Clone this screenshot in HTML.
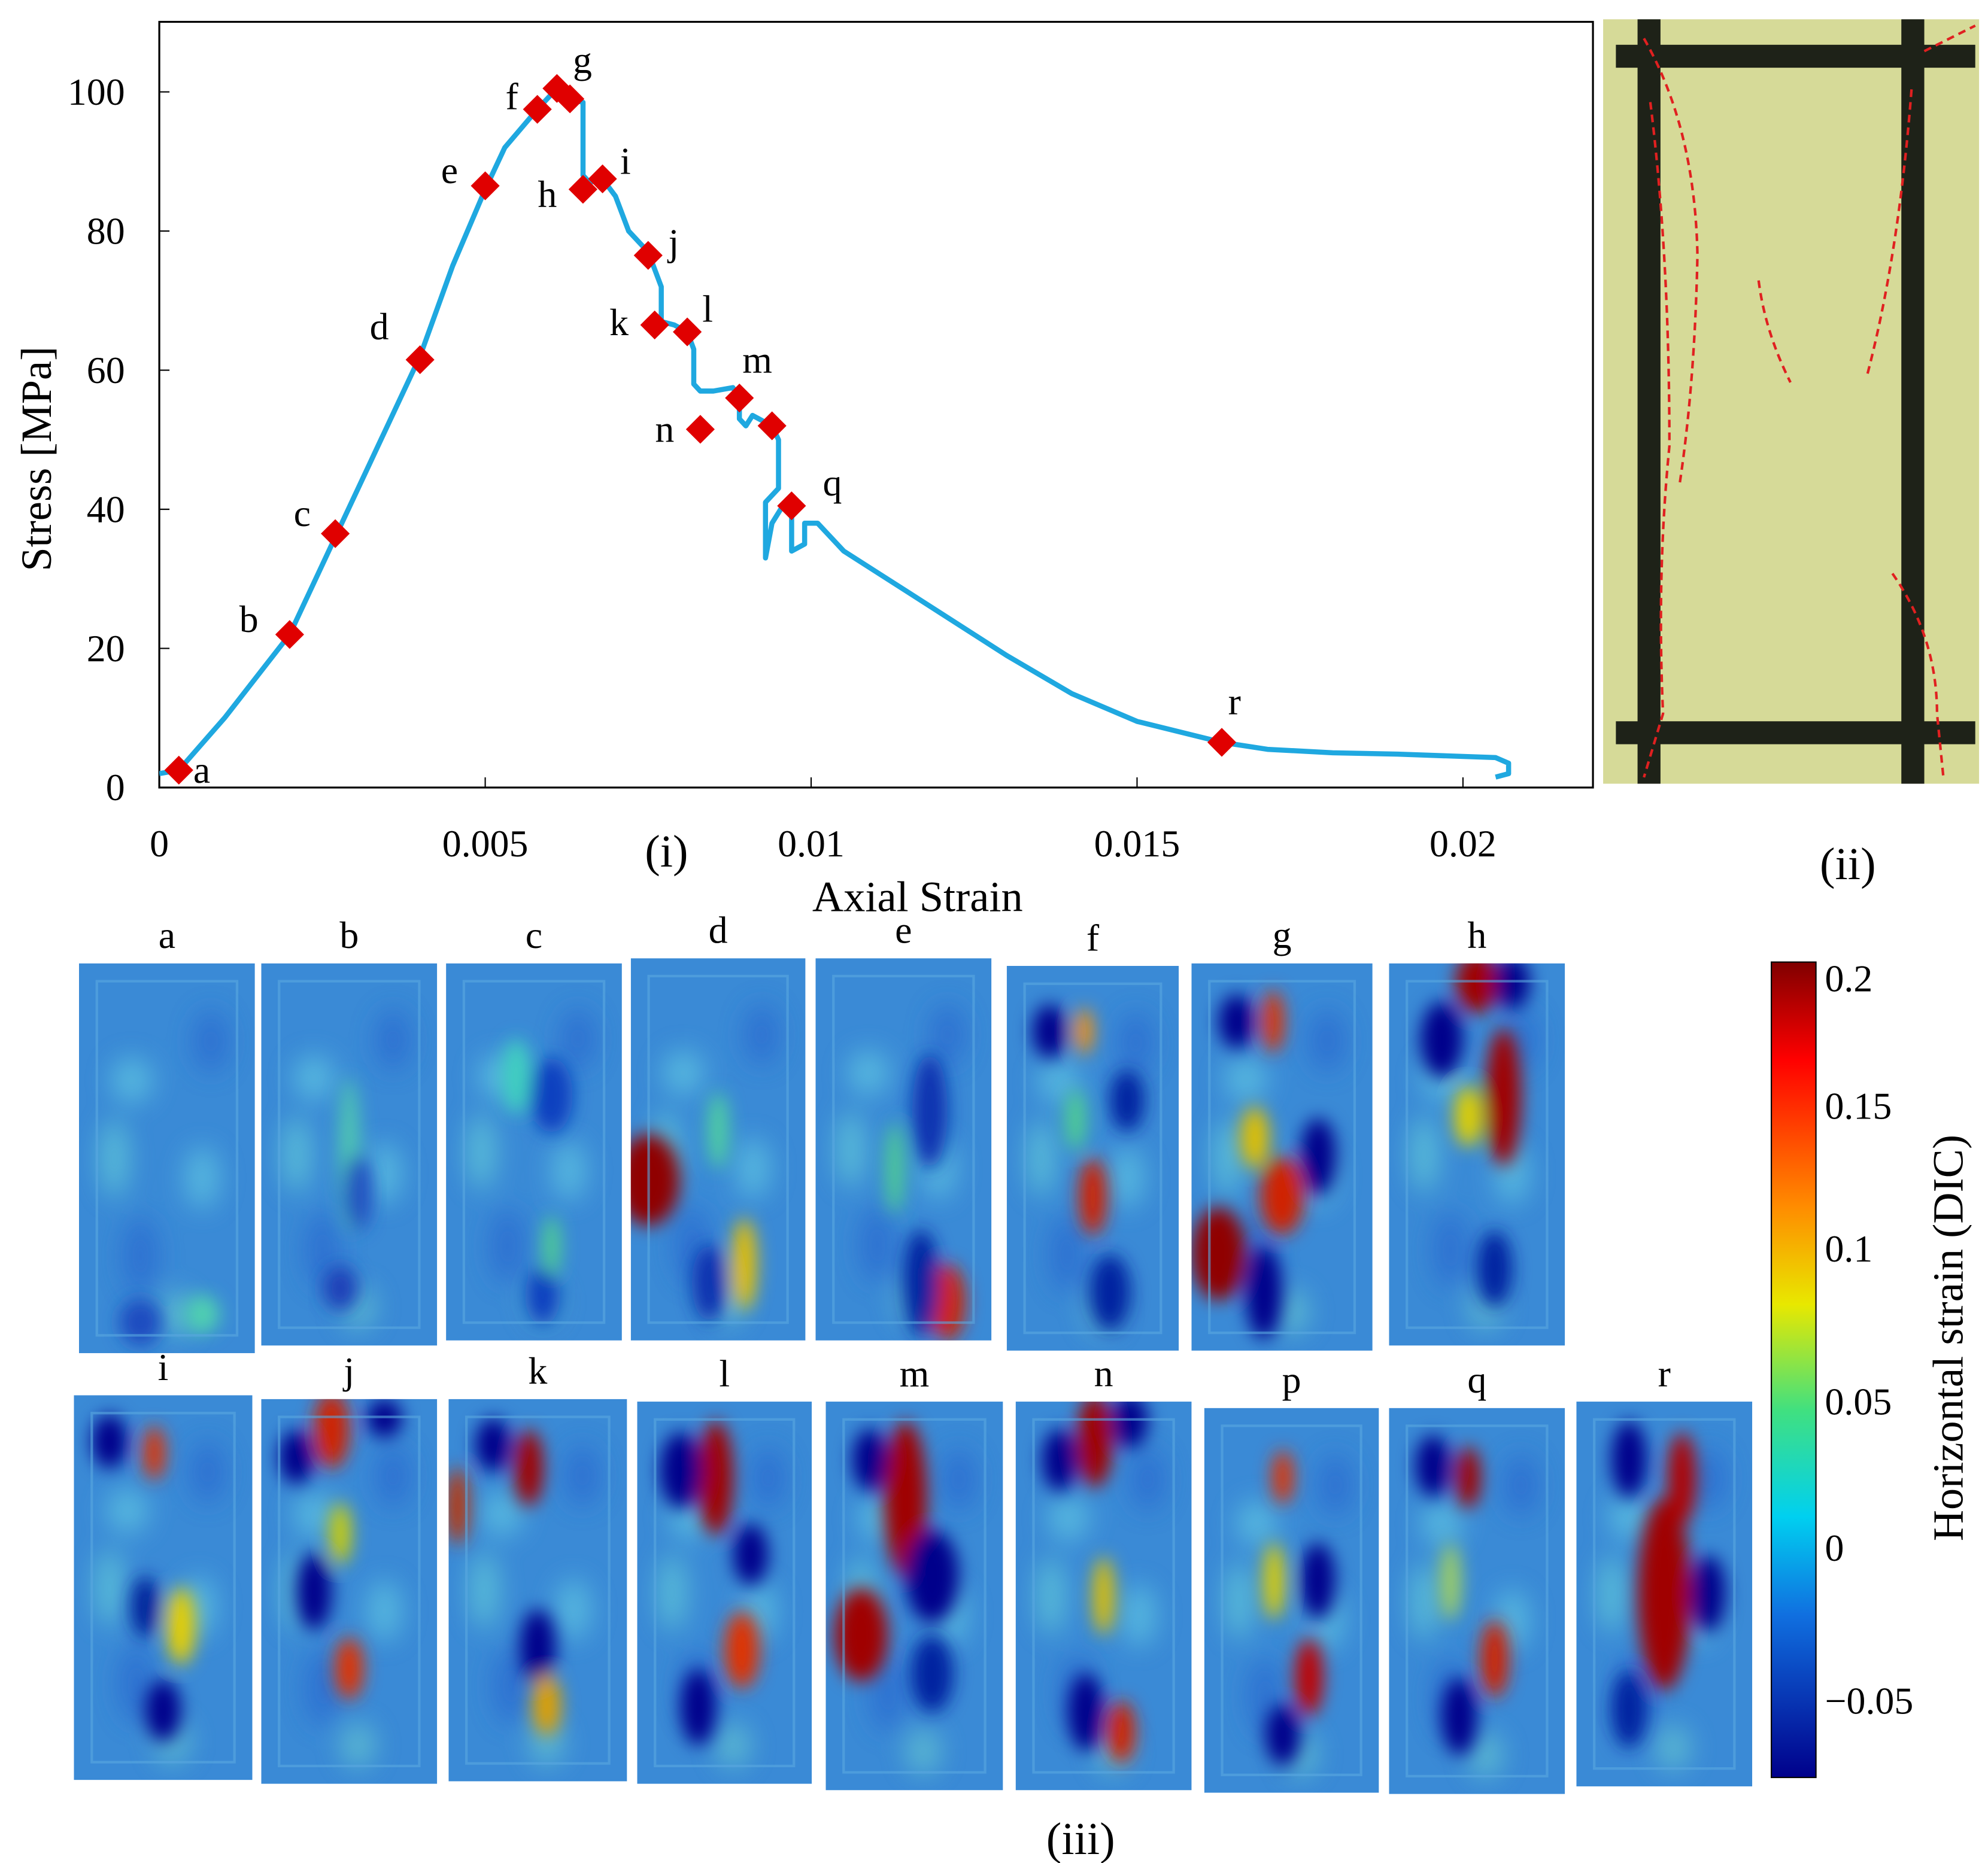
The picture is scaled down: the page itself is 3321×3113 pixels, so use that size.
<!DOCTYPE html>
<html><head><meta charset="utf-8">
<style>
html,body{margin:0;padding:0;background:#fff;}
svg{display:block;font-family:"Liberation Serif",serif;}
</style></head>
<body>
<svg id="fig" width="3321" height="3113" viewBox="0 0 1560 1462" xmlns="http://www.w3.org/2000/svg">
<defs>
<filter id="blur" x="-30%" y="-30%" width="160%" height="160%"><feGaussianBlur stdDeviation="7"/></filter>
<filter id="blur2" x="-30%" y="-30%" width="160%" height="160%"><feGaussianBlur stdDeviation="10"/></filter>
<linearGradient id="jet" x1="0" y1="0" x2="0" y2="1">
<stop offset="0" stop-color="#800000"/><stop offset="0.12" stop-color="#ff0000"/>
<stop offset="0.3" stop-color="#ff8c00"/><stop offset="0.42" stop-color="#e8e800"/>
<stop offset="0.55" stop-color="#40e080"/><stop offset="0.68" stop-color="#00d0f0"/>
<stop offset="0.8" stop-color="#1070e0"/><stop offset="1" stop-color="#00008b"/>
</linearGradient>
<clipPath id="plotclip"><rect x="125" y="17" width="1125" height="601"/></clipPath>
</defs>
<rect width="1560" height="1462" fill="#fff"/>
<rect x="125" y="17" width="1125" height="601" fill="#fff" stroke="#000" stroke-width="1.5"/>
<g id="axes"></g>
<g id="series" clip-path="url(#plotclip)"></g>
<g id="marks"></g>
<text transform="translate(40,360) rotate(-90)" text-anchor="middle" font-size="34">Stress [MPa]</text>
<text x="720" y="715" text-anchor="middle" font-size="34">Axial Strain</text>
<text x="523" y="680" text-anchor="middle" font-size="36">(i)</text>
<text x="1450" y="690" text-anchor="middle" font-size="36">(ii)</text>
<text x="848" y="1455" text-anchor="middle" font-size="36">(iii)</text>
<g>
<rect x="1258" y="15" width="295" height="600" fill="#d6da98"/>
<rect x="1268" y="35" width="282" height="18" fill="#1e2218"/>
<rect x="1268" y="566" width="282" height="18" fill="#1e2218"/>
<rect x="1285" y="15" width="18" height="600" fill="#1e2218"/>
<rect x="1492" y="15" width="18" height="600" fill="#1e2218"/>
<g fill="none" stroke="#e02020" stroke-width="2" stroke-dasharray="6,4">
<path d="M1290 30 Q1330 100 1332 200 Q1330 300 1318 380"/>
<path d="M1295 80 Q1310 200 1310 350 Q1300 450 1305 560 L1290 610"/>
<path d="M1380 220 Q1385 260 1405 300"/>
<path d="M1500 70 Q1490 200 1465 295"/>
<path d="M1485 450 Q1520 500 1520 560 L1525 610"/>
<path d="M1510 40 L1550 20"/>
</g>
</g>
<g id="dic"></g>
<rect x="1390" y="755" width="35" height="640" fill="url(#jet)" stroke="#000" stroke-width="1"/>
<g id="cbticks"></g>
<text transform="translate(1540,1050) rotate(-90)" text-anchor="middle" font-size="34">Horizontal strain (DIC)</text>
<script>
var strain=[0,0.0003,0.001,0.002,0.0027,0.0033,0.004,0.0045,0.005,0.0053,0.0058,0.0061,0.0063,0.0065,0.0065,0.0066,0.0068,0.0070,0.0072,0.0075,0.0077,0.0077,0.0079,0.0081,0.0082,0.0082,0.0083,0.0085,0.0088,0.0089,0.0089,0.009,0.0091,0.0093,0.0094,0.0095,0.0095,0.0093,0.0093,0.0094,0.0096,0.0097,0.0097,0.0099,0.0099,0.0101,0.0105,0.011,0.012,0.013,0.014,0.015,0.0163,0.017,0.018,0.019,0.0205,0.0207,0.0207,0.0205];
var stress=[2,2.5,10,22,36,48,62,75,86,92,97.5,100.5,99,98.5,88,87,87.5,85,80,77,72,67,66.5,65.5,63,58,57,57,57.5,56,53,52,53.5,52.5,52,50,43,41,33,38,41,40.5,34,35,38,38,34,31,25,19,13.5,9.5,6.5,5.5,5,4.8,4.3,3.5,2,1.5];
var markLabels=["a","b","c","d","e","f","g","","h","i","j","k","l","n","m","","q","r"];
var markX=[0.0003,0.002,0.0027,0.004,0.005,0.0058,0.0061,0.0063,0.0065,0.0068,0.0075,0.0076,0.0081,0.0083,0.0089,0.0094,0.0097,0.0163];
var markY=[2.5,22,36.5,61.5,86.5,97.5,100.5,99,86,87.5,76.5,66.5,65.5,51.5,56,52,40.5,6.5];
var labelOffX=[18,-32,-26,-32,-28,-20,20,0,-28,18,20,-28,16,-28,14,0,32,10];
var labelOffY=[10,-2,-6,-16,-2,0,-12,0,14,-4,0,8,-8,10,-20,0,-8,-22];
var xTicks=[0,0.005,0.01,0.015,0.02];
var xTickLabels=["0","0.005","0.01","0.015","0.02"];
var yTicks=[0,20,40,60,80,100];
function sx(v){return 125+v/0.02*1023;}
function sy(v){return 618-v*5.46;}
var NS="http://www.w3.org/2000/svg";
function mk(t,a,p){var e=document.createElementNS(NS,t);for(var k in a)e.setAttribute(k,a[k]);p.appendChild(e);return e;}
var ax=document.getElementById('axes');
xTicks.forEach(function(v,i){
 mk('line',{x1:sx(v),x2:sx(v),y1:618,y2:610,stroke:'#000'},ax);
 var t=mk('text',{x:sx(v),y:672,'text-anchor':'middle','font-size':30},ax);t.textContent=xTickLabels[i];
 
 
});
yTicks.forEach(function(v){
 mk('line',{x1:125,x2:133,y1:sy(v),y2:sy(v),stroke:'#000'},ax);
 var t=mk('text',{x:98,y:sy(v)+10,'text-anchor':'end','font-size':30},ax);t.textContent=v;
 
 
});
var d=strain.map(function(v,i){return (i?'L':'M')+sx(v).toFixed(1)+' '+sy(stress[i]).toFixed(1);}).join(' ');
var line=mk('path',{d:d,fill:'none',stroke:'#1fa8e0','stroke-width':4,'stroke-linejoin':'round'},document.getElementById('series'));


var mg=document.getElementById('marks');
markX.forEach(function(v,i){
 var x=sx(v),y=sy(markY[i]);
 var m=mk('rect',{x:x-8,y:y-8,width:16,height:16,fill:'#e00000',transform:'rotate(45 '+x+' '+y+')'},mg);
 
 
 if(markLabels[i]){var t=mk('text',{x:x+labelOffX[i],y:y+labelOffY[i],'text-anchor':'middle','font-size':30},mg);t.textContent=markLabels[i];
 
 }
});
var cbVals=["0.2","0.15","0.1","0.05","0","\u22120.05"];var cbY=[768,868,980,1100,1215,1335];
var cb=document.getElementById('cbticks');
cbVals.forEach(function(v,i){var t=mk('text',{x:1432,y:cbY[i]+10,'font-size':30},cb);t.textContent=v;
 
 });
var panels=[["a",62,756,138,306],["b",205,756,138,300],["c",350,756,138,296],["d",495,752,137,300],["e",640,752,138,300],["f",790,758,135,302],["g",935,756,142,304],["h",1090,756,138,300],
["i",58,1095,140,302],["j",205,1098,138,302],["k",352,1098,140,300],["l",500,1100,137,300],["m",648,1100,139,305],["n",797,1100,138,305],["p",945,1105,137,302],["q",1090,1105,138,303],["r",1237,1100,138,302]];
var texture=[[0.3,0.3,0.12,0.06,'#5cc0e0'],[0.7,0.55,0.1,0.08,'#5cc0e0'],[0.35,0.75,0.1,0.1,'#2a6cd0'],[0.75,0.2,0.1,0.08,'#2a6cd0'],[0.2,0.5,0.08,0.1,'#60c8d8'],[0.55,0.9,0.1,0.06,'#60c0d0']];
var blobs={
a:[[0.35,0.92,0.12,0.06,'#1a4cc0'],[0.7,0.9,0.1,0.05,'#50d0b0']],
b:[[0.5,0.5,0.06,0.2,'#50c8b0'],[0.55,0.6,0.08,0.1,'#2050c0'],[0.45,0.85,0.1,0.06,'#1a40b8']],
c:[[0.6,0.35,0.12,0.1,'#1040c0'],[0.4,0.3,0.08,0.1,'#40d0c0'],[0.55,0.88,0.1,0.08,'#1040c0'],[0.6,0.75,0.05,0.08,'#50d090']],
d:[[0.1,0.58,0.18,0.12,'#900000'],[0.65,0.8,0.07,0.12,'#e8c000'],[0.45,0.85,0.1,0.1,'#1030b0'],[0.5,0.45,0.06,0.1,'#50d0a0']],
e:[[0.75,0.9,0.1,0.1,'#d02000'],[0.6,0.85,0.1,0.14,'#0020a0'],[0.65,0.4,0.1,0.15,'#1030b0'],[0.45,0.55,0.05,0.12,'#50d090']],
f:[[0.25,0.17,0.1,0.07,'#00008b'],[0.45,0.17,0.05,0.06,'#ff9000'],[0.5,0.6,0.08,0.1,'#d02000'],[0.7,0.35,0.1,0.08,'#0020a0'],[0.6,0.85,0.12,0.1,'#0020a0'],[0.4,0.4,0.06,0.08,'#50d090']],
g:[[0.45,0.15,0.06,0.08,'#e03000'],[0.25,0.15,0.1,0.07,'#00008b'],[0.15,0.75,0.15,0.12,'#900000'],[0.5,0.6,0.12,0.1,'#d02000'],[0.7,0.5,0.1,0.1,'#00008b'],[0.4,0.85,0.1,0.12,'#00008b'],[0.35,0.45,0.08,0.08,'#e0c000']],
h:[[0.65,0.35,0.1,0.18,'#a00000'],[0.5,0.05,0.12,0.08,'#a00000'],[0.3,0.2,0.12,0.1,'#00008b'],[0.7,0.05,0.1,0.07,'#00008b'],[0.6,0.8,0.1,0.1,'#0020a0'],[0.45,0.4,0.08,0.08,'#e0d000']],
i:[[0.45,0.15,0.06,0.07,'#e03000'],[0.2,0.12,0.1,0.07,'#00008b'],[0.6,0.6,0.08,0.1,'#e8d000'],[0.5,0.82,0.1,0.08,'#00008b'],[0.4,0.55,0.08,0.08,'#00209a']],
j:[[0.4,0.08,0.1,0.1,'#d02000'],[0.2,0.15,0.1,0.07,'#00008b'],[0.7,0.05,0.1,0.05,'#00008b'],[0.5,0.7,0.08,0.08,'#e03000'],[0.3,0.5,0.1,0.1,'#00008b'],[0.45,0.35,0.06,0.08,'#d0d000']],
k:[[0.45,0.18,0.08,0.1,'#a00000'],[0.05,0.28,0.06,0.1,'#c03000'],[0.25,0.12,0.1,0.07,'#00008b'],[0.5,0.65,0.1,0.1,'#00008b'],[0.55,0.8,0.08,0.08,'#e0a000']],
l:[[0.45,0.2,0.1,0.15,'#a00000'],[0.25,0.18,0.12,0.1,'#00008b'],[0.6,0.65,0.1,0.1,'#e03000'],[0.35,0.8,0.1,0.1,'#00008b'],[0.65,0.4,0.1,0.08,'#00008b']],
m:[[0.45,0.25,0.12,0.2,'#a00000'],[0.2,0.6,0.15,0.12,'#a00000'],[0.25,0.15,0.1,0.08,'#00008b'],[0.6,0.45,0.15,0.12,'#00008b'],[0.6,0.7,0.12,0.1,'#0020a0']],
n:[[0.45,0.1,0.1,0.12,'#a00000'],[0.25,0.15,0.1,0.08,'#00008b'],[0.65,0.05,0.1,0.07,'#00008b'],[0.6,0.85,0.08,0.08,'#d02000'],[0.4,0.8,0.1,0.1,'#00008b'],[0.5,0.5,0.06,0.1,'#e0c000']],
p:[[0.45,0.18,0.06,0.07,'#e03000'],[0.6,0.7,0.08,0.1,'#c00000'],[0.45,0.85,0.1,0.08,'#00008b'],[0.65,0.45,0.1,0.1,'#00008b'],[0.4,0.45,0.06,0.1,'#e0d000']],
q:[[0.45,0.18,0.07,0.08,'#a00000'],[0.25,0.15,0.1,0.08,'#00008b'],[0.6,0.65,0.08,0.1,'#d02000'],[0.4,0.8,0.1,0.1,'#00008b'],[0.35,0.45,0.06,0.1,'#a0d060']],
r:[[0.5,0.5,0.15,0.25,'#a00000'],[0.6,0.2,0.08,0.12,'#b00000'],[0.3,0.15,0.1,0.1,'#00008b'],[0.75,0.5,0.1,0.1,'#00008b'],[0.3,0.8,0.1,0.1,'#0020a0']]
};
var dic=document.getElementById('dic');
panels.forEach(function(p){
 var g=mk('g',{},dic);
 
 
 var cid='c'+p[0];var cp=mk('clipPath',{id:cid},g);mk('rect',{x:p[1],y:p[2],width:p[3],height:p[4]},cp);
 var inner=mk('g',{'clip-path':'url(#'+cid+')'},g);
 mk('rect',{x:p[1],y:p[2],width:p[3],height:p[4],fill:'#3a8ad6'},inner);
 var tg=mk('g',{filter:'url(#blur2)',opacity:0.8},inner);
 texture.forEach(function(b){
  mk('ellipse',{cx:p[1]+b[0]*p[3],cy:p[2]+b[1]*p[4],rx:b[2]*p[3],ry:b[3]*p[4],fill:b[4]},tg);
 });
 var bg=mk('g',{filter:'url(#blur)'},inner);
 (blobs[p[0]]||[]).forEach(function(b){
  mk('ellipse',{cx:p[1]+b[0]*p[3],cy:p[2]+b[1]*p[4],rx:b[2]*p[3],ry:b[3]*p[4],fill:b[4]},bg);
 });
 mk('rect',{x:p[1]+14,y:p[2]+14,width:p[3]-28,height:p[4]-28,fill:'none',stroke:'#5aa8e0','stroke-width':2,opacity:0.6},inner);
 var t=mk('text',{x:p[1]+p[3]/2,y:p[2]-12,'text-anchor':'middle','font-size':30},g);t.textContent=p[0];
});
</script>
</svg>
</body></html>
